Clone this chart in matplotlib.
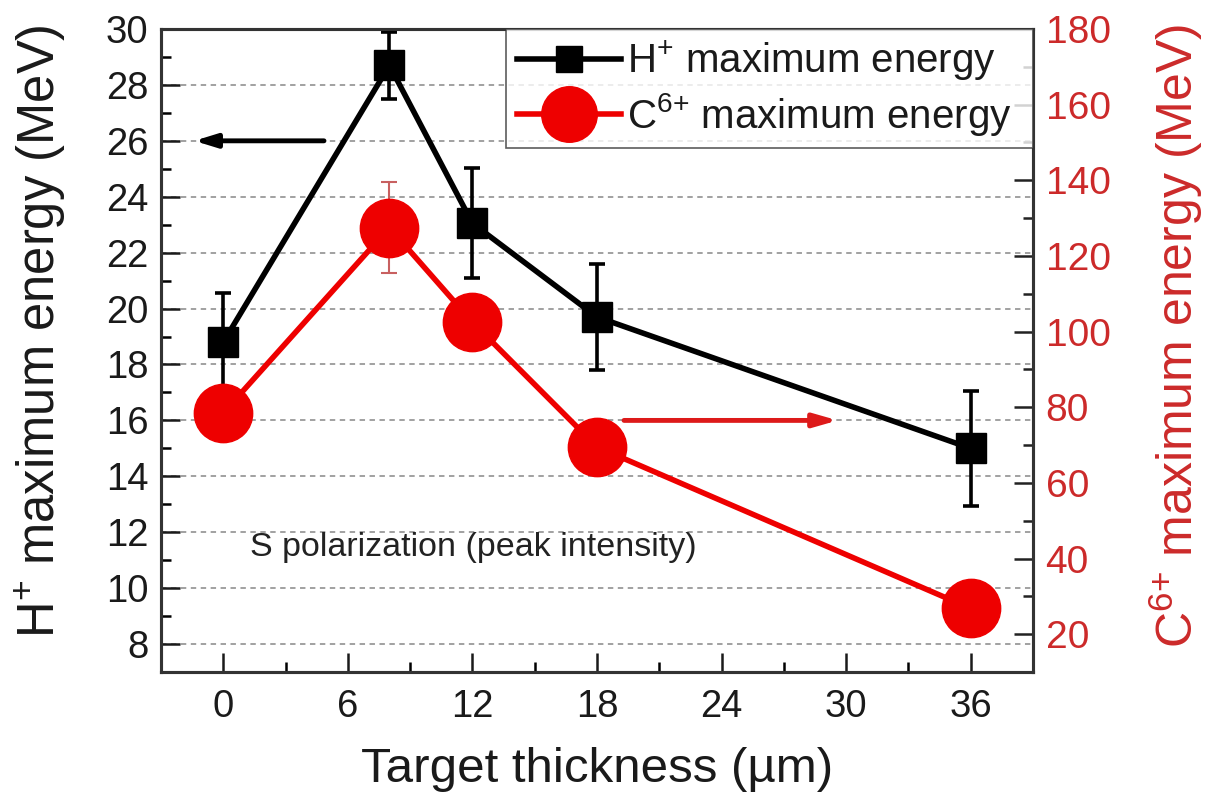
import matplotlib
matplotlib.use("Agg")
import matplotlib.pyplot as plt
from matplotlib.ticker import MultipleLocator
from matplotlib.lines import Line2D

plt.rcParams['font.family'] = ['Liberation Sans', 'DejaVu Sans']
plt.rcParams['mathtext.fontset'] = 'custom'
plt.rcParams['mathtext.rm'] = 'Liberation Sans'

# Data
thickness = [0, 8, 12, 18, 36]
h_energy = [18.8, 28.7, 23.05, 19.7, 15.0]
h_err = [1.75, 1.2, 1.97, 1.9, 2.05]
c_energy = [78.5, 127.5, 102.5, 69.5, 26.8]
c_err = [0, 12, 0, 0, 0]

x_ticks = [0, 6, 12, 18, 24, 30, 36]
left_ticks = [8, 10, 12, 14, 16, 18, 20, 22, 24, 26, 28, 30]
right_ticks = [20, 40, 60, 80, 100, 120, 140, 160, 180]

red = '#ee0000'
label_red = '#cc2a2a'
dark = '#1a1a1a'

fig = plt.figure(figsize=(12.06, 8.01), dpi=100)
ax = fig.add_axes([0.1335, 0.161, 0.7231, 0.8028])
ax2 = ax.twinx()

ax.set_xlim(-3, 39)
ax.set_ylim(7, 30)
ax2.set_ylim(10, 180)

# grid on left axis major ticks (below 30)
for yv in left_ticks[:-1]:
    ax.axhline(yv, color='#9a9a9a', lw=1.3, ls=(0, (3, 2.5)), zorder=0)

# H+ series
ax.errorbar(thickness, h_energy, yerr=h_err, color='black', lw=4, marker='s',
            ms=21, mfc='black', mec='black', elinewidth=2.6, capsize=6,
            capthick=2.6, zorder=3)

# C6+ series
ax2.errorbar(thickness[1:2], c_energy[1:2], yerr=c_err[1:2], fmt='none',
             ecolor='#c86060', elinewidth=1.5, capsize=6, capthick=1.5, zorder=2)
ax2.plot(thickness, c_energy, color=red, lw=4, marker='o', ms=42,
         mfc=red, mec=red, zorder=4)

# arrows
ax.annotate('', xy=(-1.4, 26.0), xytext=(4.85, 26.0),
            arrowprops=dict(arrowstyle='-|>,head_length=1.3,head_width=0.4',
                            color='black', lw=3.5, shrinkA=0, shrinkB=0))
ax.annotate('', xy=(29.6, 16.0), xytext=(19.3, 16.0),
            arrowprops=dict(arrowstyle='-|>,head_length=1.4,head_width=0.4',
                            color='#dd1a1a', lw=3.5, shrinkA=0, shrinkB=0))

ax.text(1.3, 11.14, 'S polarization (peak intensity)', fontsize=24.5,
        ha='left', va='baseline', color='#222222')

# ticks
ax.set_xticks(x_ticks)
ax.xaxis.set_minor_locator(MultipleLocator(3))
ax.set_yticks(left_ticks)
ax.yaxis.set_minor_locator(MultipleLocator(1))
ax2.set_yticks(right_ticks)
ax2.yaxis.set_minor_locator(MultipleLocator(10))

ax.tick_params(axis='both', which='major', direction='in', length=14, width=1.8,
               labelsize=27.5, pad=9, colors=dark)
ax.tick_params(axis='both', which='minor', direction='in', length=7, width=1.8)
ax.tick_params(axis='x', which='both', top=False)
ax.tick_params(axis='y', which='both', right=False)
ax.tick_params(axis='x', pad=12)
ax2.tick_params(axis='y', which='major', direction='in', length=14, width=1.8,
                labelsize=28, pad=9, labelcolor=label_red, color='#222222')
ax2.tick_params(axis='y', which='minor', direction='in', length=7, width=1.8,
                color='#222222')

for a in (ax, ax2):
    for s in a.spines.values():
        s.set_linewidth(2.2)
        s.set_color('#333333')

ax.set_xlabel('Target thickness (µm)', fontsize=35.5, labelpad=16, color=dark)
fig.text(40 / 1206, 1 - 331 / 801, 'H$^{+}$ maximum energy (MeV)', fontsize=36.5,
         rotation=90, ha='center', va='center', color=dark)
fig.text(1176 / 1206, 1 - 336 / 801, 'C$^{\\text{6+}}$ maximum energy (MeV)',
         fontsize=36, rotation=90, ha='center', va='center', color=label_red)

# legend
handles = [
    Line2D([], [], color='black', lw=4, marker='s', ms=19, mfc='black', mec='black'),
    Line2D([], [], color=red, lw=4, marker='o', ms=40, mfc=red, mec=red),
]
labels = ['H$^{+}$ maximum energy  ', 'C$^{\\text{6+}}$ maximum energy  ']
leg = ax2.legend(handles, labels, loc='upper right', fontsize=29, frameon=True,
                 fancybox=False, edgecolor='#333333', borderaxespad=0,
                 handlelength=2.6, handletextpad=0.15, borderpad=0.25,
                 labelspacing=0.2)
leg.get_frame().set_linewidth(1.2)
for t in leg.get_texts():
    t.set_color(dark)

fig.savefig('out.png', dpi=100)
